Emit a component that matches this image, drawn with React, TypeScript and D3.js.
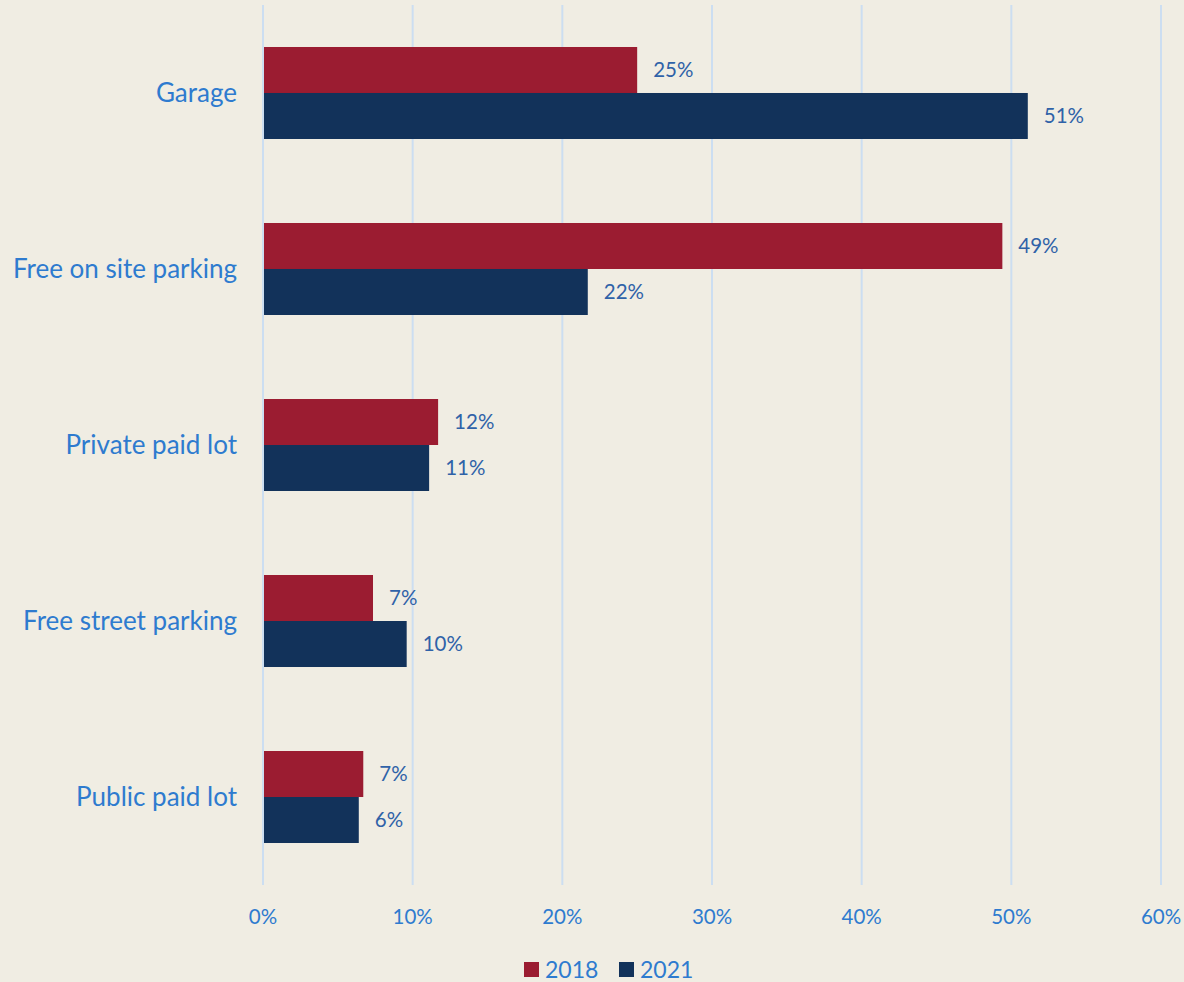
import React from "react";
import * as d3 from "d3";

const categories = ["Garage", "Free on site parking", "Private paid lot", "Free street parking", "Public paid lot"];
const series = ["2018", "2021"];
const values2018 = [25.0, 49.4, 11.7, 7.35, 6.7];
const values2021 = [51.1, 21.7, 11.1, 9.6, 6.4];
const labels2018 = ["25%", "49%", "12%", "7%", "7%"];
const labels2021 = ["51%", "22%", "11%", "10%", "6%"];
const ticks = [0, 10, 20, 30, 40, 50, 60];
const colors = ["#9B1C31", "#12325A"];

const W = 1184, H = 982;
const FONT = "Lato, 'Open Sans', sans-serif";

export default function App() {
  const x = d3.scaleLinear().domain([0, 60]).range([263, 1161]);
  const y = d3.scaleBand().domain(categories).range([5, 885]).paddingInner(0.4773).paddingOuter(0.2386);
  const sub = d3.scaleBand().domain(series).range([0, y.bandwidth()]);
  const data = [values2018, values2021];
  const labels = [labels2018, labels2021];
  return (
    <svg width={W} height={H} style={{ position: "absolute", left: 0, top: 0, background: "#F0EDE3" }}>
      <rect x={0} y={0} width={W} height={H} fill="#F0EDE3" />
      {ticks.map((t) => (
        <g key={t}>
          <line x1={x(t)} x2={x(t)} y1={5} y2={885} stroke="#CCDEF1" strokeWidth={2} />
          <text x={x(t)} y={924} textAnchor="middle" fontFamily={FONT} fontSize={20.5} fill="#2E7BCF">{t}%</text>
        </g>
      ))}
      {categories.map((c, i) => (
        <g key={c}>
          <text x={237} y={(y(c) as number) + y.bandwidth() / 2} dy="0.35em" textAnchor="end" fontFamily={FONT} fontSize={26} fill="#2E7BCF">{c}</text>
          {series.map((s, j) => {
            const by = (y(c) as number) + (sub(s) as number);
            const v = data[j][i];
            return (
              <g key={s}>
                <rect x={x(0) + 1} y={by} width={x(v) - x(0) - 1} height={sub.bandwidth()} fill={colors[j]} />
                <text x={x(v) + 16} y={by + sub.bandwidth() / 2} dy="0.35em" fontFamily={FONT} fontSize={20.5} fill="#2F62A8">{labels[j][i]}</text>
              </g>
            );
          })}
        </g>
      ))}
      {series.map((s, j) => (
        <g key={s} transform={`translate(${524 + j * 95},962)`}>
          <rect x={0} y={0} width={15} height={15} fill={colors[j]} />
          <text x={21} y={7.5} dy="0.35em" fontFamily={FONT} fontSize={23} fill="#2E7BCF">{s}</text>
        </g>
      ))}
    </svg>
  );
}
